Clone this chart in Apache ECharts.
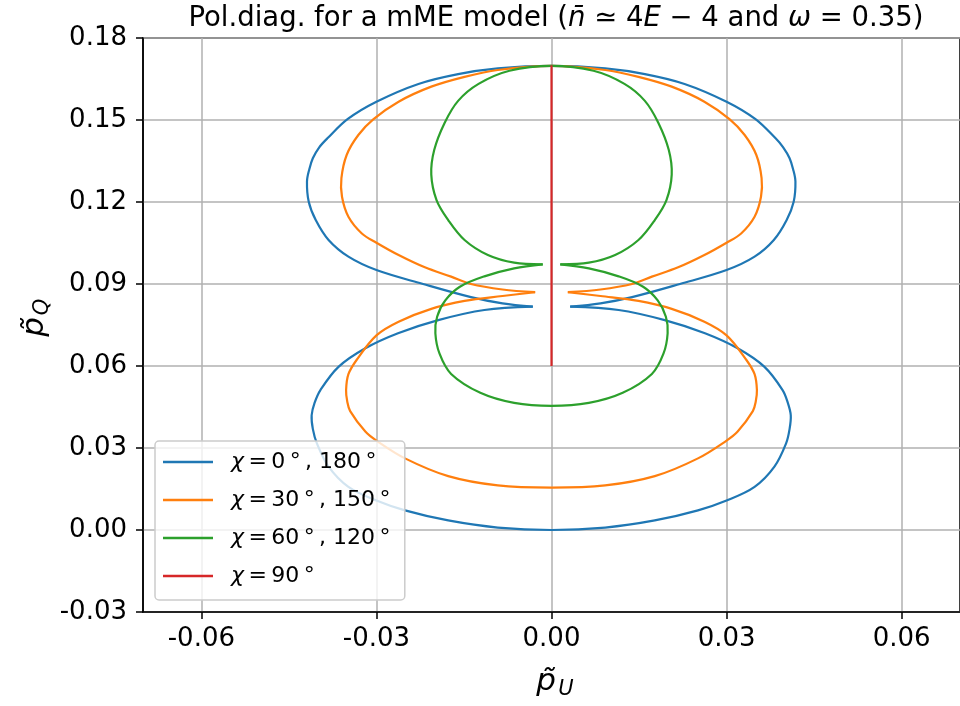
<!DOCTYPE html>
<html>
<head>
<meta charset="utf-8">
<script src="https://cdn.jsdelivr.net/npm/echarts@6/dist/echarts.min.js"></script>
<style>html,body{margin:0;padding:0;background:#fff}#c{width:960px;height:706px}</style>
</head>
<body>
<div id="c"></div>
<script>
// ---------- data ----------
const xTicks = [-0.06, -0.03, 0.00, 0.03, 0.06];
const yTicks = [-0.03, 0.00, 0.03, 0.06, 0.09, 0.12, 0.15, 0.18];
const legendLabels = ['χ = 0°, 180°', 'χ = 30°, 150°', 'χ = 60°, 120°', 'χ = 90°'];

// chi = 0 / 180 (blue) : upper lobe (left cusp -> top -> right cusp), lower lobe (left cusp -> bottom -> right cusp)
const chi0Upper = [
  [-0.0032,0.0817],[-0.0084,0.0829],[-0.0138,0.0852],[-0.0220,0.0900],[-0.0300,0.0951],[-0.0348,0.1000],
  [-0.0382,0.1061],[-0.0404,0.1134],[-0.0416,0.1201],[-0.0419,0.1275],[-0.0415,0.1320],[-0.0409,0.1360],
  [-0.0398,0.1400],[-0.0384,0.1433],[-0.0349,0.1504],[-0.0300,0.1567],[-0.0228,0.1632],[-0.0160,0.1668],
  [-0.0092,0.1689],[0,0.1698],
  [0.0092,0.1689],[0.0160,0.1668],[0.0228,0.1632],[0.0300,0.1567],[0.0349,0.1504],[0.0384,0.1433],
  [0.0397,0.1400],[0.0408,0.1360],[0.0414,0.1320],[0.0418,0.1275],[0.0415,0.1201],[0.0403,0.1134],
  [0.0381,0.1061],[0.0348,0.1000],[0.0300,0.0951],[0.0220,0.0900],[0.0138,0.0852],[0.0084,0.0829],
  [0.0032,0.0817]
];
const chi0Lower = [
  [-0.0032,0.0817],[-0.0115,0.0805],[-0.0194,0.0768],[-0.0263,0.0720],[-0.0319,0.0665],[-0.0365,0.0597],
  [-0.0396,0.0512],[-0.0406,0.0465],[-0.0411,0.0420],[-0.0409,0.0370],[-0.0402,0.0317],[-0.0382,0.0232],
  [-0.0348,0.0158],[-0.0300,0.0108],[-0.0251,0.0072],[-0.0177,0.0035],[-0.0092,0.0009],[0,0],
  [0.0092,0.0009],[0.0177,0.0035],[0.0251,0.0072],[0.0300,0.0108],[0.0348,0.0158],[0.0382,0.0232],
  [0.0402,0.0317],[0.0408,0.0370],[0.0410,0.0420],[0.0405,0.0465],[0.0396,0.0512],[0.0365,0.0597],
  [0.0319,0.0665],[0.0263,0.0720],[0.0194,0.0768],[0.0115,0.0805],[0.0032,0.0817]
];

// chi = 30 / 150 (orange)
const chi30Upper = [
  [-0.0028,0.0870],[-0.0084,0.0880],[-0.0138,0.0900],[-0.0172,0.0927],[-0.0217,0.0961],[-0.0262,0.1006],
  [-0.0300,0.1051],[-0.0325,0.1085],[-0.0348,0.1146],[-0.0359,0.1219],[-0.0360,0.1287],[-0.0351,0.1372],
  [-0.0331,0.1445],[-0.0305,0.1503],[-0.0262,0.1567],[-0.0206,0.1622],[-0.0149,0.1658],[-0.0092,0.1683],
  [0,0.1698],
  [0.0092,0.1683],[0.0149,0.1658],[0.0206,0.1622],[0.0262,0.1567],[0.0305,0.1503],[0.0331,0.1445],
  [0.0351,0.1372],[0.0360,0.1287],[0.0359,0.1219],[0.0348,0.1146],[0.0325,0.1085],[0.0300,0.1051],
  [0.0262,0.1006],[0.0217,0.0961],[0.0172,0.0927],[0.0138,0.0900],[0.0084,0.0880],[0.0028,0.0870]
];
const chi30Lower = [
  [-0.0028,0.0870],[-0.0084,0.0856],[-0.0149,0.0838],[-0.0206,0.0809],[-0.0262,0.0762],[-0.0300,0.0712],
  [-0.0334,0.0622],[-0.0348,0.0570],[-0.0352,0.0512],[-0.0350,0.0470],[-0.0345,0.0435],[-0.0319,0.0360],
  [-0.0300,0.0327],[-0.0251,0.0262],[-0.0177,0.0197],[-0.0092,0.0163],[0,0.0155],
  [0.0092,0.0163],[0.0177,0.0197],[0.0251,0.0262],[0.0300,0.0327],[0.0319,0.0360],[0.0345,0.0435],
  [0.0350,0.0470],[0.0352,0.0512],[0.0348,0.0570],[0.0334,0.0622],[0.0300,0.0712],[0.0262,0.0762],
  [0.0206,0.0809],[0.0149,0.0838],[0.0084,0.0856],[0.0028,0.0870]
];

// chi = 60 / 120 (green)
const chi60Upper = [
  [-0.0015,0.0972],[-0.0064,0.0978],[-0.0109,0.1006],[-0.0149,0.1061],[-0.0177,0.1134],[-0.0197,0.1207],
  [-0.0206,0.1300],[-0.0201,0.1390],[-0.0183,0.1490],[-0.0160,0.1570],[-0.0125,0.1632],[-0.0072,0.1680],
  [0,0.1698],
  [0.0072,0.1680],[0.0125,0.1632],[0.0160,0.1570],[0.0183,0.1490],[0.0201,0.1390],[0.0206,0.1300],
  [0.0197,0.1207],[0.0177,0.1134],[0.0149,0.1061],[0.0109,0.1006],[0.0064,0.0978],[0.0015,0.0972]
];
const chi60Lower = [
  [-0.0015,0.0972],[-0.0064,0.0957],[-0.0115,0.0928],[-0.0157,0.0890],[-0.0182,0.0840],[-0.0196,0.0780],
  [-0.0199,0.0720],[-0.0192,0.0646],[-0.0172,0.0571],[-0.0122,0.0502],[-0.0064,0.0465],[0,0.0454],
  [0.0064,0.0465],[0.0122,0.0502],[0.0172,0.0571],[0.0192,0.0646],[0.0199,0.0720],[0.0196,0.0780],
  [0.0182,0.0840],[0.0157,0.0890],[0.0115,0.0928],[0.0064,0.0957],[0.0015,0.0972]
];

// chi = 90 (red)
const chi90Line = [[0,0.060],[0,0.170]];

const curveParts = [
  [chi0Upper, chi0Lower],
  [chi30Upper, chi30Lower],
  [chi60Upper, chi60Lower],
  [chi90Line]
];
const colors = ['#1f77b4', '#ff7f0e', '#2ca02c', '#d62728'];

// ---------- chart ----------
const FONT = 'DejaVu Sans';
const chart = echarts.init(document.getElementById('c'), null, {renderer: 'canvas'});

const series = curveParts.map((parts, i) => ({
  name: legendLabels[i],
  type: 'custom',
  coordinateSystem: 'cartesian2d',
  data: parts.map(p => p[0]),
  encode: {x: 0, y: 1},
  itemStyle: {color: colors[i]},
  z: 2 + i,
  animation: false,
  renderItem: (params, api) => {
    const pts = parts[params.dataIndex].map(p => api.coord(p));
    return {
      type: 'polyline',
      shape: {points: pts, smooth: 0.35},
      style: {stroke: colors[i], lineWidth: 2.2, fill: null, lineJoin: 'round'},
      silent: true
    };
  }
}));

chart.setOption({
  animation: false,
  backgroundColor: '#fff',
  textStyle: {fontFamily: FONT},
  title: {
    left: 551, top: 0, textAlign: 'center',
    text: '{n|Pol.diag. for a mME model (}{i|n\u0304}{n| \u2243 4}{i|E}{n| \u2212 4 and }{i|\u03c9}{n| = 0.35)}',
    textStyle: {
      fontWeight: 'normal',
      rich: {
        n: {fontFamily: FONT, fontSize: 27.5, fontWeight: 'normal', color: '#000'},
        i: {fontFamily: FONT, fontSize: 27.5, fontWeight: 'normal', fontStyle: 'italic', color: '#000'}
      }
    }
  },
  grid: {left: 143, top: 38, width: 822, height: 574, show: true, borderColor: '#000', borderWidth: 1.5, backgroundColor: 'transparent'},
  xAxis: {
    type: 'value', min: -0.07, max: 0.07,
    axisLine: {show: true, onZero: false, lineStyle: {color: '#000', width: 1.5}},
    axisTick: {show: true, inside: false, length: 7, lineStyle: {color: '#000', width: 1.5}, customValues: xTicks},
    axisLabel: {customValues: xTicks, margin: 14, fontSize: 26, fontFamily: FONT, color: '#000', formatter: v => v.toFixed(2)},
    splitLine: {show: true, lineStyle: {color: '#b0b0b0', width: 1.5}}
  },
  yAxis: {
    type: 'value', min: -0.03, max: 0.18, interval: 0.03,
    axisLine: {show: true, onZero: false, lineStyle: {color: '#000', width: 1.5}},
    axisTick: {show: true, inside: false, length: 7, lineStyle: {color: '#000', width: 1.5}, customValues: yTicks},
    axisLabel: {customValues: yTicks, margin: 16, fontSize: 26, fontFamily: FONT, color: '#000', formatter: v => v.toFixed(2)},
    splitLine: {show: true, lineStyle: {color: '#b0b0b0', width: 1.5}}
  },
  legend: {
    orient: 'vertical', left: 155, top: 441,
    data: legendLabels,
    icon: 'rect', itemWidth: 50, itemHeight: 2.5, itemGap: 14,
    padding: [9, 10, 12, 8],
    backgroundColor: 'rgba(255,255,255,0.8)', borderColor: '#cccccc', borderWidth: 1.5, borderRadius: 4,
    formatter: name => '{i|' + name.charAt(0) + '}{t|' + name.slice(1).replace(/°/g, '\u2009°\u2009').replace(' =', '\u2009=').replace('= ', '=\u2009') + '}',
    textStyle: {
      padding: [0, 0, 0, 13], lineHeight: 24,
      rich: {
        i: {fontFamily: FONT, fontSize: 22, fontStyle: 'italic', color: '#000', lineHeight: 24},
        t: {fontFamily: FONT, fontSize: 22, color: '#000', lineHeight: 24}
      }
    },
    z: 10
  },
  graphic: [
    {type: 'group', x: 546, y: 682, children: [
      {type: 'text', x: 0, y: 0, style: {text: 'p\u0303', fontFamily: FONT, fontSize: 31, fontStyle: 'italic', fill: '#000', align: 'center', verticalAlign: 'middle'}},
      {type: 'text', x: 20, y: 8, style: {text: 'U', fontFamily: FONT, fontSize: 21, fontStyle: 'italic', fill: '#000', align: 'center', verticalAlign: 'middle'}}
    ]},
    {type: 'group', x: 35, y: 327, rotation: Math.PI / 2, children: [
      {type: 'text', x: 0, y: 0, style: {text: 'p\u0303', fontFamily: FONT, fontSize: 31, fontStyle: 'italic', fill: '#000', align: 'center', verticalAlign: 'middle'}},
      {type: 'text', x: 20, y: 8, style: {text: 'Q', fontFamily: FONT, fontSize: 21, fontStyle: 'italic', fill: '#000', align: 'center', verticalAlign: 'middle'}}
    ]}
  ],
  series: series
});
</script>
</body>
</html>
